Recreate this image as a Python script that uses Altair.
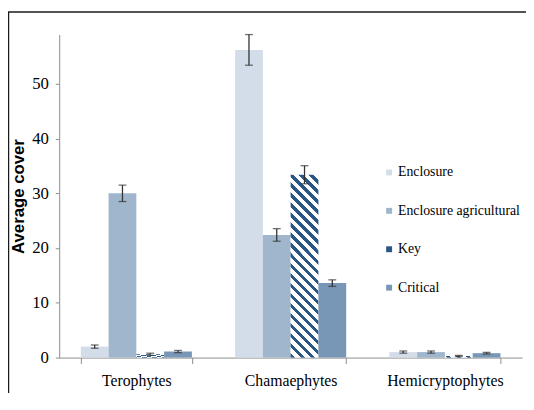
import altair as alt
import pandas as pd

categories = ["Terophytes", "Chamaephytes", "Hemicryptophytes"]
series = ["Enclosure", "Enclosure agricultural", "Key", "Critical"]

enclosure = [2.0, 56.2, 1.0]
enclosure_agr = [30.0, 22.4, 1.0]
key = [0.6, 33.4, 0.3]
critical = [1.1, 13.6, 0.8]

enclosure_err = [0.3, 2.8, 0.2]
enclosure_agr_err = [1.5, 1.15, 0.2]
key_err = [0.2, 1.65, 0.1]
critical_err = [0.2, 0.6, 0.15]

y_ticks = [0, 10, 20, 30, 40, 50]

colors = ["#d3dde9", "#9fb6cd", "#2a5785", "#7896b6"]

vals = [enclosure, enclosure_agr, key, critical]
errs = [enclosure_err, enclosure_agr_err, key_err, critical_err]
rows = []
for s, vs, es in zip(series, vals, errs):
    for c, v, e in zip(categories, vs, es):
        rows.append({"category": c, "series": s, "value": v, "lo": v - e, "hi": v + e})
df = pd.DataFrame(rows)

# diagonal stripe gradient for the "Key" bars
n_stripes = 21
dark = "#2a5785"
stops = []
for i in range(n_stripes):
    a = i / n_stripes
    m = (i + 0.45) / n_stripes
    b = (i + 1) / n_stripes
    stops += [
        {"offset": a, "color": dark},
        {"offset": m, "color": dark},
        {"offset": min(m + 0.0001, 1), "color": "#ffffff"},
        {"offset": max(b - 0.0001, 0), "color": "#ffffff"},
    ]
stripes = {"gradient": "linear", "x1": 0, "y1": 1, "x2": 0.172, "y2": -0.127, "stops": stops}

serif = "Liberation Serif"
x_enc = alt.X(
    "category:N",
    sort=categories,
    scale=alt.Scale(paddingInner=0.28, paddingOuter=0.14),
    axis=alt.Axis(
        title=None,
        labelAngle=0,
        labelFont=serif,
        labelFontSize=16,
        labelColor="#000000",
        labelPadding=9,
        tickBand="extent",
        tickSize=6,
        tickColor="#8c8c8c",
        domainColor="#8c8c8c",
        domainWidth=1,
    ),
)
xo_enc = alt.XOffset("series:N", sort=series)
y_scale = alt.Scale(domain=[0, 59], nice=False)

bars = alt.Chart(df).mark_bar().encode(
    x=x_enc,
    xOffset=xo_enc,
    y=alt.Y(
        "value:Q",
        scale=y_scale,
        axis=alt.Axis(
            title="Average cover",
            titleFont="Liberation Sans",
            titleFontSize=17,
            titleFontWeight="bold",
            titleColor="#000000",
            titlePadding=4,
            values=y_ticks,
            grid=False,
            labelFont=serif,
            labelFontSize=17,
            labelColor="#000000",
            labelPadding=7,
            tickSize=4,
            tickColor="#8c8c8c",
            domainColor="#8c8c8c",
        ),
    ),
    fill=alt.condition(
        "datum.series == 'Key'",
        alt.value(stripes),
        alt.Fill(
            "series:N",
            sort=series,
            scale=alt.Scale(domain=series, range=colors),
            legend=alt.Legend(
                title=None,
                orient="none",
                legendX=328,
                legendY=133,
                symbolType="square",
                symbolSize=36,
                symbolStrokeWidth=0,
                labelFont=serif,
                labelFontSize=14,
                labelColor="#000000",
                labelOffset=2,
                rowPadding=25,
                padding=0,
                labelLimit=300,
            ),
        ),
    ),
)

rules = alt.Chart(df).mark_rule(color="#333333", strokeWidth=1.3).encode(
    x=x_enc, xOffset=xo_enc, y=alt.Y("lo:Q", scale=y_scale), y2="hi:Q"
)
tick_hi = alt.Chart(df).mark_tick(color="#333333", thickness=1.3, size=8, orient="horizontal").encode(
    x=x_enc, xOffset=xo_enc, y=alt.Y("hi:Q", scale=y_scale)
)
tick_lo = alt.Chart(df).mark_tick(color="#333333", thickness=1.3, size=8, orient="horizontal").encode(
    x=x_enc, xOffset=xo_enc, y=alt.Y("lo:Q", scale=y_scale)
)

one = pd.DataFrame({"f": [0]})
frame_top = alt.Chart(one).mark_rule(stroke="#1a1a1a", strokeWidth=1.5).encode(
    x=alt.value(-52), x2=alt.value(490), y=alt.value(-23)
)
frame_left = alt.Chart(one).mark_rule(stroke="#1a1a1a", strokeWidth=1.5).encode(
    x=alt.value(-51.5), y=alt.value(-23), y2=alt.value(400)
)

chart = alt.layer(frame_top, frame_left, bars, rules, tick_hi, tick_lo).properties(
    width=470,
    height=328,
    autosize=alt.AutoSizeParams(type="none"),
    padding={"left": 52, "top": 24, "right": 4, "bottom": 33},
).configure_view(stroke=None)

chart.save("out.html", embed_options={"renderer": "svg", "actions": False})
